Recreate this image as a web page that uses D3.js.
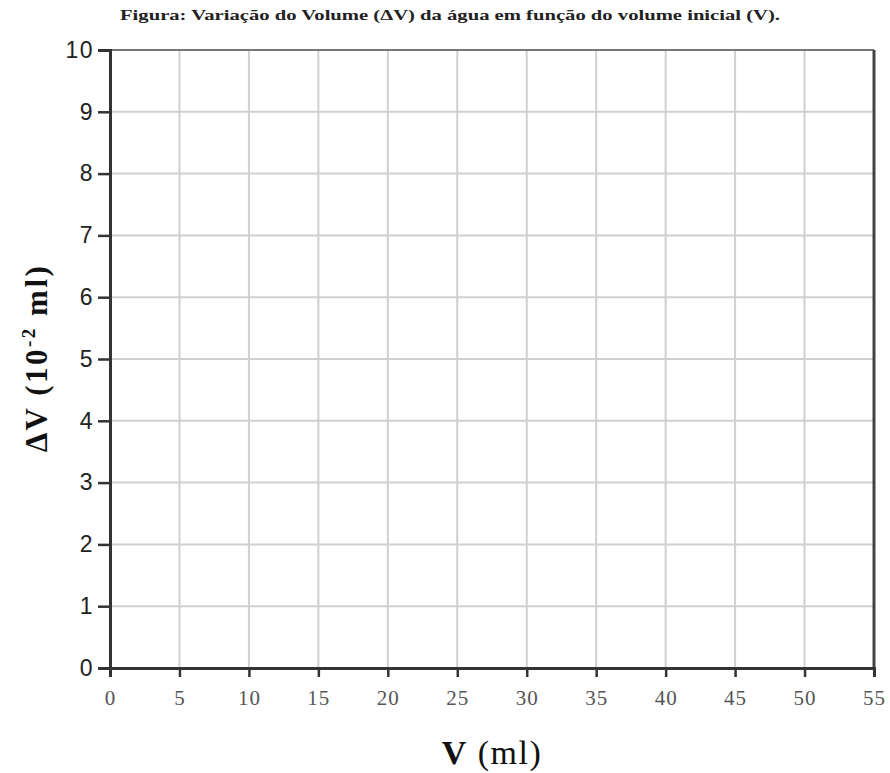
<!DOCTYPE html>
<html>
<head>
<meta charset="utf-8">
<script src="https://cdn.jsdelivr.net/npm/d3@7"></script>
<style>
  body { margin: 0; background: #fff; }
  svg { display: block; }
</style>
</head>
<body>
<script>
// Axis domains and tick values (empty chart: only grid)
var xTicks = [0, 5, 10, 15, 20, 25, 30, 35, 40, 45, 50, 55];
var yTicks = [0, 1, 2, 3, 4, 5, 6, 7, 8, 9, 10];
var xDomain = [0, 55];
var yDomain = [0, 10];
var titleText = "Figura: Variação do Volume (ΔV) da água em função do volume inicial (V).";

var width = 890, height = 773;
var margin = {top: 50, right: 16, bottom: 105, left: 110};

var svg = d3.select("body").append("svg")
    .attr("width", width)
    .attr("height", height);

var xScale = d3.scaleLinear()
    .domain(xDomain)
    .range([margin.left, width - margin.right]);
var yScale = d3.scaleLinear()
    .domain(yDomain)
    .range([height - margin.bottom, margin.top]);

// Grid lines
svg.append("g").selectAll("line.vgrid")
    .data(xTicks.slice(1, -1))
    .enter().append("line")
    .attr("x1", function(d) { return xScale(d); })
    .attr("x2", function(d) { return xScale(d); })
    .attr("y1", yScale(10))
    .attr("y2", yScale(0))
    .attr("stroke", "#d0d0d0")
    .attr("stroke-width", 2);
svg.append("g").selectAll("line.hgrid")
    .data(yTicks.slice(1, -1))
    .enter().append("line")
    .attr("x1", xScale(0))
    .attr("x2", xScale(55))
    .attr("y1", function(d) { return yScale(d); })
    .attr("y2", function(d) { return yScale(d); })
    .attr("stroke", "#d0d0d0")
    .attr("stroke-width", 2);

// Top border (lighter) and right border (dark)
svg.append("line")
    .attr("x1", xScale(0)).attr("x2", xScale(55))
    .attr("y1", yScale(10)).attr("y2", yScale(10))
    .attr("stroke", "#777").attr("stroke-width", 2);
svg.append("line")
    .attr("x1", xScale(55)).attr("x2", xScale(55))
    .attr("y1", yScale(10)).attr("y2", yScale(0))
    .attr("stroke", "#444").attr("stroke-width", 3);

// X axis
var xAxis = d3.axisBottom(xScale)
    .tickValues(xTicks)
    .tickSize(9)
    .tickPadding(13)
    .tickFormat(d3.format("d"));
var gx = svg.append("g")
    .attr("transform", "translate(0," + yScale(0) + ")")
    .call(xAxis);
gx.select(".domain").attr("stroke", "#333").attr("stroke-width", 3);
gx.selectAll(".tick line").attr("stroke", "#333").attr("stroke-width", 2.5);
gx.selectAll(".tick text")
    .attr("fill", "#555")
    .style("font-family", "'Liberation Serif', 'Times New Roman', serif")
    .style("font-size", "21px")
    .style("letter-spacing", "1px");

// Y axis
var yAxis = d3.axisLeft(yScale)
    .tickValues(yTicks)
    .tickSize(12)
    .tickPadding(4)
    .tickFormat(d3.format("d"));
var gy = svg.append("g")
    .attr("transform", "translate(" + xScale(0) + ",0)")
    .call(yAxis);
gy.select(".domain").attr("stroke", "#333").attr("stroke-width", 3);
gy.selectAll(".tick line").attr("stroke", "#333").attr("stroke-width", 2.5);
gy.selectAll(".tick text")
    .attr("fill", "#222")
    .style("font-family", "'Liberation Sans', Arial, sans-serif")
    .style("font-size", "23px")
    .style("letter-spacing", "1.5px");

// Title
svg.append("text")
    .attr("x", 450)
    .attr("y", 20)
    .attr("text-anchor", "middle")
    .attr("textLength", 660)
    .attr("lengthAdjust", "spacingAndGlyphs")
    .style("font-family", "'Liberation Serif', 'Times New Roman', serif")
    .style("font-weight", "bold")
    .style("font-size", "14px")
    .attr("fill", "#222")
    .text(titleText);

// X label
var xl = svg.append("text")
    .attr("x", 492)
    .attr("y", 764)
    .attr("text-anchor", "middle")
    .style("font-family", "'Liberation Serif', 'Times New Roman', serif")
    .style("font-size", "34px")
    .style("letter-spacing", "1.5px")
    .attr("fill", "#111");
xl.append("tspan").style("font-weight", "bold").text("V");
xl.append("tspan").text(" (ml)");

// Y label
var yl = svg.append("text")
    .attr("transform", "translate(47," + 358 + ") rotate(-90)")
    .attr("text-anchor", "middle")
    .style("font-family", "'Liberation Serif', 'Times New Roman', serif")
    .style("font-weight", "bold")
    .style("font-size", "31px")
    .style("letter-spacing", "2.5px")
    .attr("fill", "#111");
yl.append("tspan").text("ΔV (10");
yl.append("tspan").attr("dy", -12).style("font-size", "19px").text("-2");
yl.append("tspan").attr("dy", 12).text(" ml)");
</script>
</body>
</html>
